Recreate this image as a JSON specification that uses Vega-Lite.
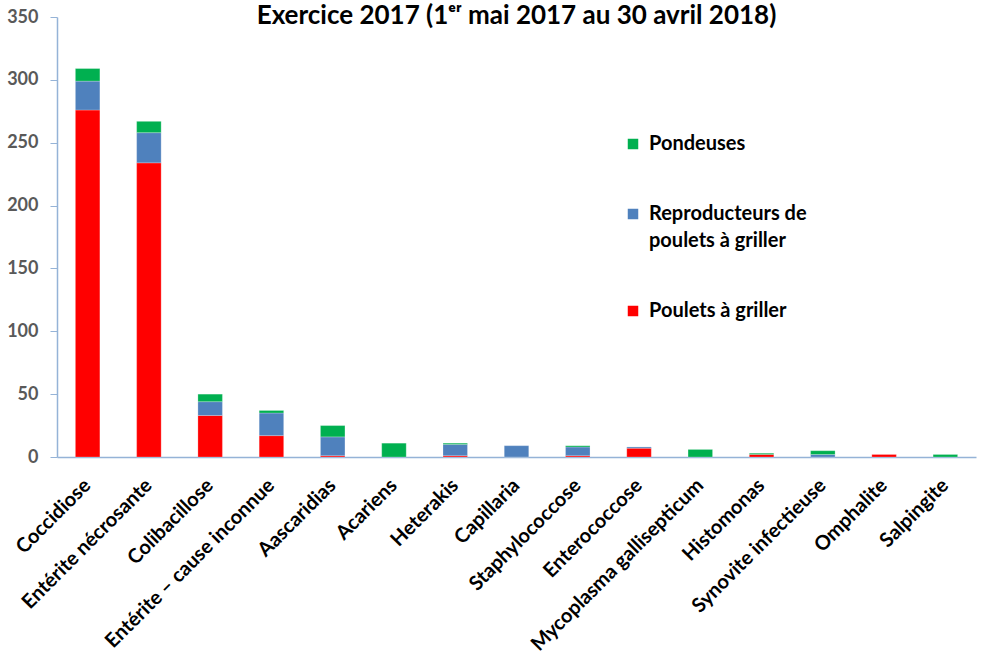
{
  "$schema": "https://vega.github.io/schema/vega-lite/v6.json",
  "autosize": "none",
  "width": 919,
  "height": 440,
  "padding": {"left": 57, "top": 17, "right": 13, "bottom": 207},
  "background": "white",
  "title": {
    "text": "Exercice 2017 (1ᵉʳ mai 2017 au 30 avril 2018)",
    "font": "Lato",
    "fontSize": 26,
    "fontWeight": "bold",
    "color": "#000000",
    "anchor": "middle",
    "frame": "group",
    "offset": -21
  },
  "data": {
    "values": [
      {"maladie": "Coccidiose", "type": "Poulets à griller", "n": 276},
      {"maladie": "Coccidiose", "type": "Reproducteurs de poulets à griller", "n": 23},
      {"maladie": "Coccidiose", "type": "Pondeuses", "n": 10},
      {"maladie": "Entérite nécrosante", "type": "Poulets à griller", "n": 234},
      {"maladie": "Entérite nécrosante", "type": "Reproducteurs de poulets à griller", "n": 24},
      {"maladie": "Entérite nécrosante", "type": "Pondeuses", "n": 9},
      {"maladie": "Colibacillose", "type": "Poulets à griller", "n": 33},
      {"maladie": "Colibacillose", "type": "Reproducteurs de poulets à griller", "n": 11},
      {"maladie": "Colibacillose", "type": "Pondeuses", "n": 6},
      {"maladie": "Entérite – cause inconnue", "type": "Poulets à griller", "n": 17},
      {"maladie": "Entérite – cause inconnue", "type": "Reproducteurs de poulets à griller", "n": 18},
      {"maladie": "Entérite – cause inconnue", "type": "Pondeuses", "n": 2},
      {"maladie": "Aascaridias", "type": "Poulets à griller", "n": 1},
      {"maladie": "Aascaridias", "type": "Reproducteurs de poulets à griller", "n": 15},
      {"maladie": "Aascaridias", "type": "Pondeuses", "n": 9},
      {"maladie": "Acariens", "type": "Pondeuses", "n": 11},
      {"maladie": "Heterakis", "type": "Poulets à griller", "n": 1},
      {"maladie": "Heterakis", "type": "Reproducteurs de poulets à griller", "n": 9},
      {"maladie": "Heterakis", "type": "Pondeuses", "n": 1},
      {"maladie": "Capillaria", "type": "Reproducteurs de poulets à griller", "n": 9},
      {"maladie": "Staphylococcose", "type": "Poulets à griller", "n": 1},
      {"maladie": "Staphylococcose", "type": "Reproducteurs de poulets à griller", "n": 7},
      {"maladie": "Staphylococcose", "type": "Pondeuses", "n": 1},
      {"maladie": "Enterococcose", "type": "Poulets à griller", "n": 7},
      {"maladie": "Enterococcose", "type": "Reproducteurs de poulets à griller", "n": 1},
      {"maladie": "Mycoplasma gallisepticum", "type": "Pondeuses", "n": 6},
      {"maladie": "Histomonas", "type": "Poulets à griller", "n": 2},
      {"maladie": "Histomonas", "type": "Pondeuses", "n": 1},
      {"maladie": "Synovite infectieuse", "type": "Reproducteurs de poulets à griller", "n": 2},
      {"maladie": "Synovite infectieuse", "type": "Pondeuses", "n": 3},
      {"maladie": "Omphalite", "type": "Poulets à griller", "n": 2},
      {"maladie": "Salpingite", "type": "Pondeuses", "n": 2}
    ]
  },
  "transform": [
    {"calculate": "indexof(['Poulets à griller', 'Reproducteurs de poulets à griller', 'Pondeuses'], datum.type)", "as": "ordre"}
  ],
  "mark": {"type": "bar", "stroke": "white", "strokeOpacity": 0.4, "strokeWidth": 0.6},
  "encoding": {
    "x": {
      "field": "maladie",
      "type": "nominal",
      "sort": null,
      "scale": {"paddingInner": 0.6, "paddingOuter": 0.3},
      "axis": {
        "title": null,
        "labelAngle": -45,
        "labelAlign": "right",
        "labelBaseline": "middle",
        "labelFont": "Lato",
        "labelFontSize": 20,
        "labelFontWeight": "bold",
        "labelColor": "#000000",
        "labelPadding": 25,
        "labelOffset": 0,
        "labelOverlap": false,
        "labelLimit": 400,
        "ticks": false,
        "domainColor": "#95B3D7",
        "domainWidth": 1.5
      }
    },
    "y": {
      "field": "n",
      "type": "quantitative",
      "aggregate": "sum",
      "stack": "zero",
      "scale": {"domain": [0, 350], "nice": false},
      "axis": {
        "title": null,
        "values": [0, 50, 100, 150, 200, 250, 300, 350],
        "grid": false,
        "labelFont": "Lato",
        "labelFontSize": 18,
        "labelFontWeight": "bold",
        "labelColor": "#595959",
        "labelPadding": 12,
        "tickSize": 7,
        "tickColor": "#95B3D7",
        "domainColor": "#95B3D7",
        "domainWidth": 1.5
      }
    },
    "color": {
      "field": "type",
      "type": "nominal",
      "scale": {
        "domain": ["Pondeuses", "Reproducteurs de poulets à griller", "Poulets à griller"],
        "range": ["#00B050", "#4F81BD", "#FF0000"]
      },
      "legend": {
        "title": null,
        "orient": "none",
        "legendX": 566,
        "legendY": 117,
        "symbolType": "square",
        "symbolSize": 110,
        "symbolStrokeWidth": 0,
        "labelFont": "Lato",
        "labelFontSize": 20,
        "labelFontWeight": "bold",
        "labelColor": "#000000",
        "labelOffset": 6,
        "labelLimit": 400,
        "labelBaseline": "middle",
        "rowPadding": 50,
        "labelExpr": "datum.label == 'Reproducteurs de poulets à griller' ? ['Reproducteurs de', 'poulets à griller'] : datum.label"
      }
    },
    "order": {"field": "ordre", "type": "quantitative"}
  },
  "config": {
    "view": {"stroke": null},
    "style": {"guide-label": {"lineHeight": 27}}
  }
}
